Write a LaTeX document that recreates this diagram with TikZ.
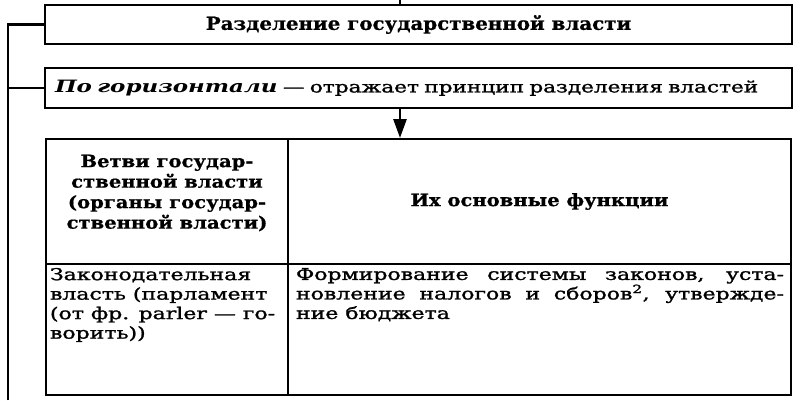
\documentclass[tikz,border=0pt]{standalone}
\usepackage{fontspec}
\setmainfont{DejaVu Serif}[FakeStretch=1.35]
\newfontfamily\heavyfam{DejaVu Serif}[FakeStretch=1.35,FakeBold=1.5]
\newfontfamily\headfam{DejaVu Serif}[FakeStretch=1.15,BoldFeatures={FakeBold=0.8}]
\newfontfamily\titlefam{DejaVu Serif}[FakeStretch=1.1,BoldFeatures={FakeBold=0.8}]
\usetikzlibrary{arrows.meta}
\begin{document}
\begin{tikzpicture}[x=1pt,y=-1pt,line width=2pt,
  box/.style={draw,line width=2.4pt,inner sep=0pt},
  cell/.style={draw,line width=2pt,inner sep=0pt,anchor=north west},
  conn/.style={line width=2.6pt},
  titlef/.style={font=\fontsize{18}{22}\selectfont\titlefam\bfseries},
  headf/.style={font=\fontsize{17}{20.5}\selectfont\headfam\bfseries},
  bodyf/.style={font=\fontsize{16.3}{19.5}\selectfont\heavyfam},
  txt/.style={inner sep=0pt}]
\useasboundingbox (0,0) rectangle (800,400);
\node[box,minimum width=747pt,minimum height=39pt,titlef] (top) at (418.5,24.5) {Разделение государственной власти};
\node[box,text width=727pt,inner xsep=10pt,minimum height=40pt,align=left,font=\fontsize{16}{19.5}\selectfont\heavyfam] (hor) at (418.5,88) {{\normalfont\fontsize{17}{19.5}\selectfont\bfseries\itshape По горизонтали} — отражает принцип разделения властей};
\node[cell,minimum width=242pt,minimum height=125pt] (h1) at (45,138) {};
\node[cell,minimum width=503pt,minimum height=125pt] (h2) at (287,138) {};
\node[cell,minimum width=242pt,minimum height=131pt] (c1) at (45,263) {};
\node[cell,minimum width=503pt,minimum height=131pt] (c2) at (287,263) {};
\node[txt,headf,align=center] (h1t) at (167,193) {Ветви государ-\\ственной власти\\(органы государ-\\ственной власти)};
\node[txt,headf] (h2t) at (h2.center) {Их основные функции};
\node[txt,bodyf,align=left,anchor=north west] (c1t) at ([xshift=4pt,yshift=-4pt]c1.north west) {Законодательная\\власть (парламент\\(от фр. parler — го-\\ворить))};
\node[txt,bodyf,align=left,anchor=north west] (c2t) at ([xshift=8pt,yshift=-4pt]c2.north west) {\makebox[488pt][s]{Формирование системы законов, уста-}\\\makebox[488pt][s]{новление налогов и сборов\textsuperscript{2}, утвержде-}\\ние бюджета};
\coordinate (st) at (400,0);
\draw[conn] (st) -- (st |- top.north);
\coordinate (lb) at (8,400);
\draw[conn] (lb) |- (top.west);
\draw[conn] (lb |- hor.west) -- (hor.west);
\coordinate (ax) at (400,0);
\draw[conn,-{Triangle[width=13pt,length=19pt]}] (hor.south -| ax) -- (h1.north -| ax);
\end{tikzpicture}
\end{document}
